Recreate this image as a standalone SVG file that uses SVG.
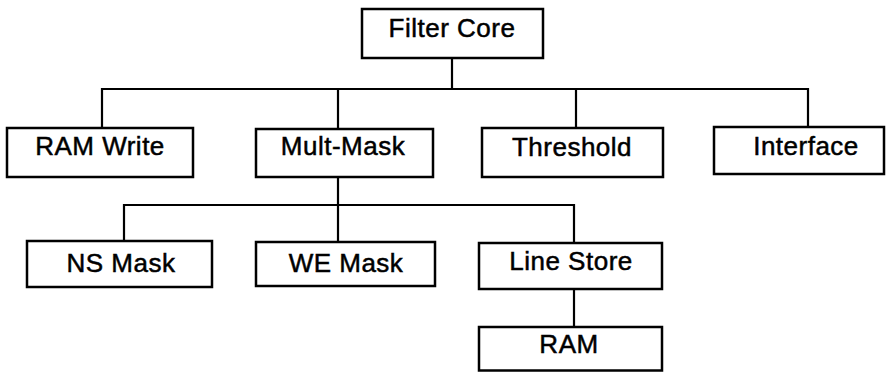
<svg xmlns="http://www.w3.org/2000/svg" width="890" height="372" viewBox="0 0 890 372">
  <style>
    .box { fill: #ffffff; stroke: #000000; stroke-width: 2.5; }
    .label { font-family: "Liberation Sans", Arial, sans-serif; font-size: 26px; fill: #000000; stroke: #000000; stroke-width: 0.5; text-anchor: middle; letter-spacing: 0.5px; }
    .wire { fill: none; stroke: #000000; stroke-width: 2.2; }
  </style>
  <rect width="890" height="372" fill="#ffffff"/>

  <!-- connectors -->
  <g id="connectors">
    <!-- Filter Core to its four children -->
    <path class="wire" d="M452 58 V89"/>
    <path class="wire" d="M102 128 V89 H808 V127"/>
    <path class="wire" d="M338 89 V129"/>
    <path class="wire" d="M576 89 V128"/>
    <!-- Mult-Mask to its three children -->
    <path class="wire" d="M338 177 V242"/>
    <path class="wire" d="M124 241 V205 H574 V243"/>
    <!-- Line Store to RAM -->
    <path class="wire" d="M574 289 V327"/>
  </g>

  <g id="filter-core">
    <rect class="box" x="362" y="9" width="181" height="49"/>
    <text class="label" x="452" y="37">Filter Core</text>
  </g>
  <g id="ram-write">
    <rect class="box" x="7" y="128" width="186" height="49"/>
    <text class="label" x="100" y="155">RAM Write</text>
  </g>
  <g id="mult-mask">
    <rect class="box" x="256" y="129" width="177" height="48"/>
    <text class="label" x="343" y="155">Mult-Mask</text>
  </g>
  <g id="threshold">
    <rect class="box" x="482" y="128" width="181" height="49"/>
    <text class="label" x="572" y="156">Threshold</text>
  </g>
  <g id="interface">
    <rect class="box" x="714" y="127" width="170" height="47"/>
    <text class="label" x="806" y="155">Interface</text>
  </g>
  <g id="ns-mask">
    <rect class="box" x="27" y="241" width="185" height="46"/>
    <text class="label" x="121" y="272">NS Mask</text>
  </g>
  <g id="we-mask">
    <rect class="box" x="256" y="242" width="179" height="44"/>
    <text class="label" x="346" y="272">WE Mask</text>
  </g>
  <g id="line-store">
    <rect class="box" x="479" y="243" width="183" height="46"/>
    <text class="label" x="571" y="270">Line Store</text>
  </g>
  <g id="ram">
    <rect class="box" x="479" y="327" width="183" height="43.5"/>
    <text class="label" x="569" y="353">RAM</text>
  </g>
</svg>
